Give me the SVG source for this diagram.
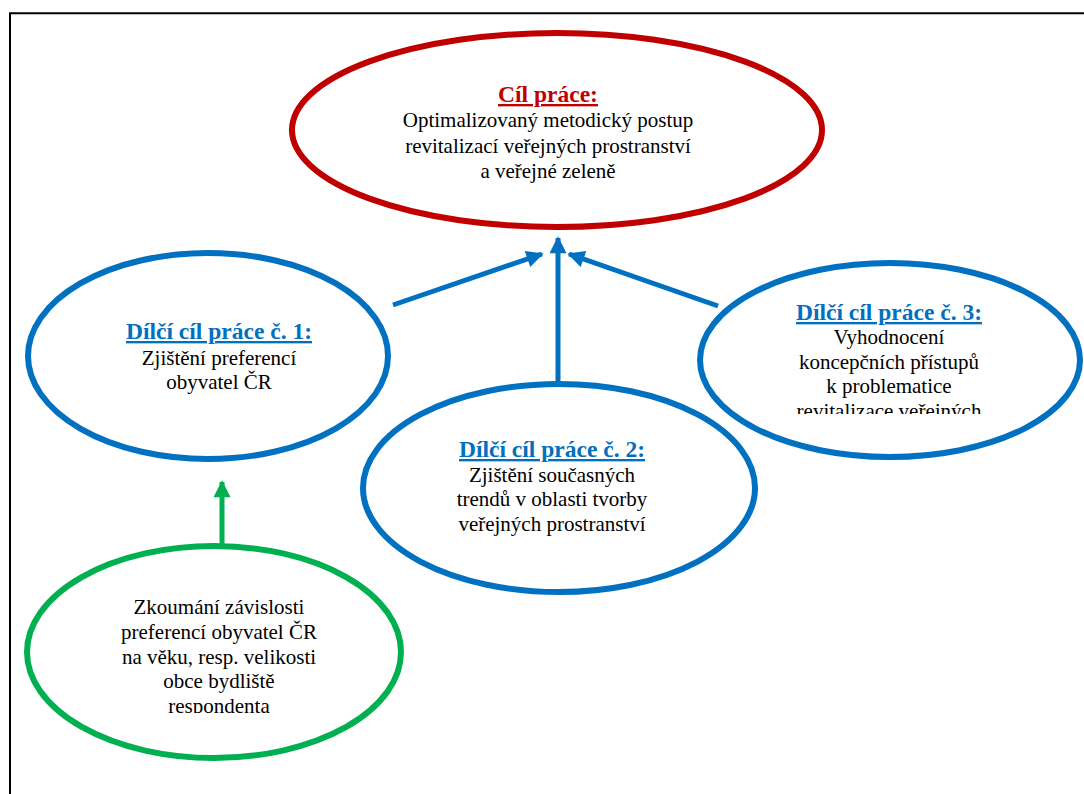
<svg xmlns="http://www.w3.org/2000/svg" width="1084" height="794" viewBox="0 0 1084 794">
<defs>
<style>
text{font-family:'Liberation Serif','Times New Roman',Tinos,'DejaVu Serif',serif;text-anchor:middle;fill:#000;font-size:21px}
.t{font-weight:bold;font-size:23.5px;text-decoration:underline}
.red{fill:#C00000}.blue{fill:#0070C0}
.e{fill:#fff;stroke-width:6}
.c{stroke-width:5;fill:none}
</style>
<marker id="ab" viewBox="0 0 10 10" refX="9" refY="5" markerWidth="3.6" markerHeight="3.4" orient="auto" markerUnits="strokeWidth"><path d="M0,0L10,5L0,10z" fill="#0070C0"/></marker>
<marker id="ag" viewBox="0 0 10 10" refX="9" refY="5" markerWidth="3.6" markerHeight="3.4" orient="auto" markerUnits="strokeWidth"><path d="M0,0L10,5L0,10z" fill="#00B050"/></marker>
<clipPath id="c3"><rect x="690" y="250" width="394" height="164"/></clipPath>
<clipPath id="cg"><rect x="20" y="540" width="400" height="173"/></clipPath>
</defs>
<rect width="1084" height="794" fill="#fff"/>
<path d="M10,794V13.3H1084" fill="none" stroke="#000" stroke-width="2"/>
<g id="connectors">
<line class="c" x1="393" y1="305" x2="542" y2="254" stroke="#0070C0" marker-end="url(#ab)"/>
<line class="c" x1="558" y1="381" x2="558" y2="238" stroke="#0070C0" marker-end="url(#ab)"/>
<line class="c" x1="718" y1="306" x2="569" y2="254" stroke="#0070C0" marker-end="url(#ab)"/>
<line class="c" x1="222" y1="549" x2="222" y2="482" stroke="#00B050" marker-end="url(#ag)"/>
</g>
<g id="goal">
<ellipse class="e" cx="557" cy="130" rx="265" ry="97" stroke="#C00000"/>
<text class="t red" x="548" y="102">Cíl práce:</text>
<text x="548" y="127">Optimalizovaný metodický postup</text>
<text x="548" y="153">revitalizací veřejných prostranství</text>
<text x="548" y="178">a veřejné zeleně</text>
</g>
<g id="sub1">
<ellipse class="e" cx="208" cy="356" rx="180" ry="103" stroke="#0070C0"/>
<text class="t blue" x="219" y="339">Dílčí cíl práce č. 1:</text>
<text x="219" y="365">Zjištění preferencí</text>
<text x="219" y="389">obyvatel ČR</text>
</g>
<g id="sub2">
<ellipse class="e" cx="559" cy="488" rx="196" ry="104" stroke="#0070C0"/>
<text class="t blue" x="552" y="457">Dílčí cíl práce č. 2:</text>
<text x="552" y="482">Zjištění současných</text>
<text x="552" y="506">trendů v oblasti tvorby</text>
<text x="552" y="531">veřejných prostranství</text>
</g>
<g id="sub3">
<ellipse class="e" cx="890" cy="360" rx="190" ry="97" stroke="#0070C0"/>
<text class="t blue" x="889" y="320">Dílčí cíl práce č. 3:</text>
<g clip-path="url(#c3)">
<text x="889" y="344">Vyhodnocení</text>
<text x="889" y="369">koncepčních přístupů</text>
<text x="889" y="393">k problematice</text>
<text x="889" y="418">revitalizace veřejných</text>
</g>
</g>
<g id="research">
<ellipse class="e" cx="214" cy="652" rx="187" ry="106" stroke="#00B050"/>
<g clip-path="url(#cg)">
<text x="219" y="614">Zkoumání závislosti</text>
<text x="219" y="639">preferencí obyvatel ČR</text>
<text x="219" y="664">na věku, resp. velikosti</text>
<text x="219" y="688">obce bydliště</text>
<text x="219" y="713">respondenta</text>
</g>
</g>
</svg>
